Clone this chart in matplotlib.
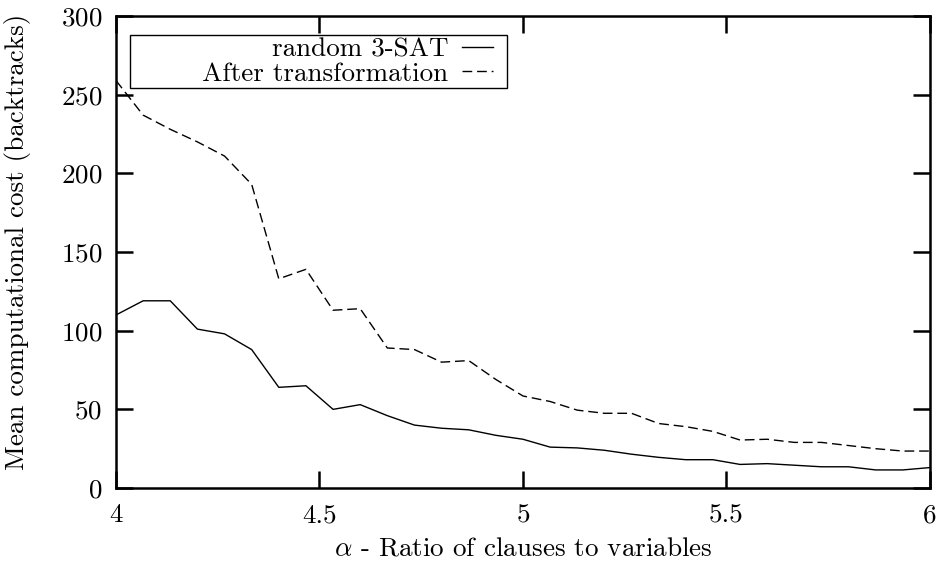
import numpy as np
import matplotlib
matplotlib.use('Agg')
from matplotlib import pyplot as plt
from matplotlib.patches import Rectangle

plt.rcParams['font.family'] = 'serif'
plt.rcParams['font.serif'] = ['cmr10']
plt.rcParams['mathtext.fontset'] = 'cm'
plt.rcParams['axes.formatter.use_mathtext'] = True

alpha = np.linspace(4, 6, 31)

random_3sat = [110, 119, 119, 101, 98, 88, 64, 65, 50, 53,
               46, 40, 38, 37, 33.5, 31, 26, 25.5, 24, 21.5,
               19.5, 18, 18, 15, 15.5, 14.5, 13.5, 13.5, 11.5, 11.5, 13]
after_transform = [259, 237, 228, 220, 211, 193, 133, 139, 113, 114,
                   89, 88, 80, 81, 69, 58.5, 55, 49.5, 47.5, 47.5,
                   41, 39, 36, 30.5, 31, 29, 29, 27, 25, 23.5, 23.5]

xticks = [4, 4.5, 5, 5.5, 6]
xticklabels = ['4', '4.5', '5', '5.5', '6']
yticks = [0, 50, 100, 150, 200, 250, 300]

fs = 19.5

fig = plt.figure(figsize=(9.37, 5.68), dpi=100)
ax = fig.add_axes([0.1238, 0.1408, 0.8687, 0.831])

ax.plot(alpha, random_3sat, color='black', lw=1.0, label='random 3-SAT')
ax.plot(alpha, after_transform, color='black', lw=1.0, dashes=(7, 3.5),
        label='After transformation')

ax.set_xlim(4, 6)
ax.set_ylim(0, 300)
ax.set_xticks(xticks)
ax.set_xticklabels(xticklabels)
ax.set_yticks(yticks)
ax.tick_params(direction='in', length=12, width=1.8, top=True, right=True,
               labelsize=fs)
ax.tick_params(axis='x', pad=11)
ax.tick_params(axis='y', pad=10)
for s in ax.spines.values():
    s.set_linewidth(1.8)

ax.set_xlabel(r'$\alpha$ - Ratio of clauses to variables', fontsize=fs)
ax.set_ylabel('Mean computational cost (backtracks)', fontsize=fs)
ax.xaxis.set_label_coords(0.5, -0.103)
ax.yaxis.set_label_coords(-0.105, 0.521)

# legend: text right-aligned, sample on the right, wide box like gnuplot
leg = ax.legend(loc='upper right', bbox_to_anchor=(0.4668, 0.9597), markerfirst=False,
                frameon=False, fontsize=fs, handlelength=1.15, borderpad=0.1,
                labelspacing=0.0, borderaxespad=0, handletextpad=0.5)
ax.add_patch(Rectangle((0.0172, 0.8475), 0.4631, 0.1122, transform=ax.transAxes,
                       fill=False, edgecolor='black', lw=1.0, zorder=4))

fig.savefig('out.png', dpi=100)
